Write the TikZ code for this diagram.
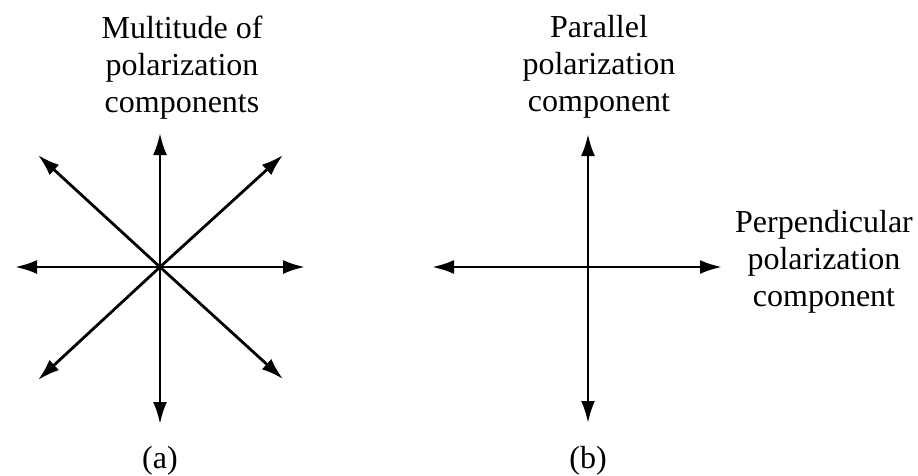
\documentclass[tikz,border=0pt]{standalone}
\usepackage{fontspec}
\setmainfont{Liberation Serif}
\usetikzlibrary{arrows.meta, positioning}

\begin{document}
\begin{tikzpicture}[
  x=1pt, y=-1pt,
  pol/.style={-{Latex[length=22pt, width=14pt]}, line width=2.8pt},
  lbl/.style={align=center, anchor=north, inner sep=0pt,
              font=\fontsize{32}{37}\selectfont}
]
\useasboundingbox (0,0) rectangle (918,475);

% (a) many components
\coordinate (ca) at (160,267);
\foreach \n/\x/\y in {N/160/133, S/160/424, W/15/267, E/305/267,
                      NW/38/155, NE/283/155, SW/38/380, SE/283/379} {
  \coordinate (a\n) at (\x,\y);
  \draw[pol] (ca) -- (a\n);
}
\node[lbl] (multi) at (182,16) {Multitude of\\polarization\\components};
\node[lbl] (capa) at (160,446) {(a)};

% (b) two components
\coordinate (cb) at (588,267);
\foreach \n/\x/\y in {N/588/134, S/588/423, W/432/267, E/722/267} {
  \coordinate (b\n) at (\x,\y);
  \draw[pol] (cb) -- (b\n);
}
\node[lbl] (para) at (599,15) {Parallel\\polarization\\component};
\node[lbl] (perp) at (824,210) {Perpendicular\\polarization\\component};
\node[lbl] (capb) at (588,446) {(b)};
\end{tikzpicture}
\end{document}
